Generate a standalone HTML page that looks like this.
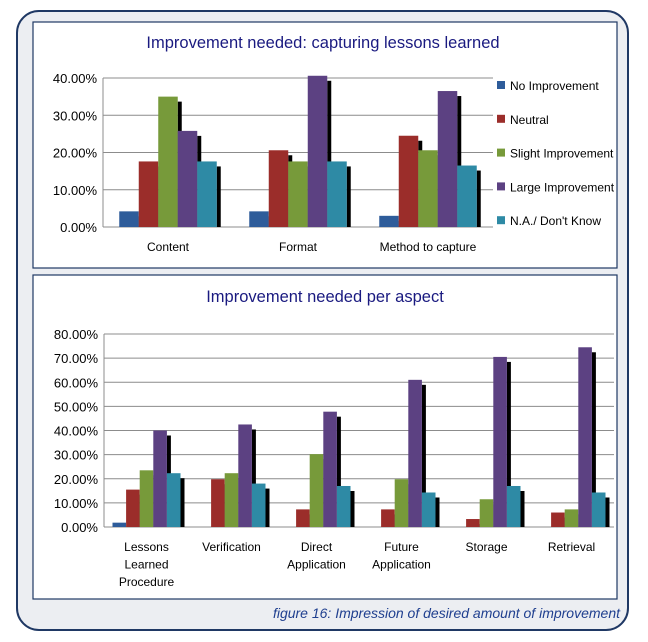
<!DOCTYPE html>
<html><head><meta charset="utf-8"><style>
body{margin:0;width:648px;height:637px;background:#fff;overflow:hidden;font-family:"Liberation Sans",sans-serif}
svg text{font-family:"Liberation Sans",sans-serif}
</style></head><body>
<svg id="s" width="648" height="637" xmlns="http://www.w3.org/2000/svg">
<rect x="17" y="11" width="611" height="619" rx="22" fill="#eceef2" stroke="#1f3864" stroke-width="2"/>
<rect x="33" y="22" width="584" height="246" fill="#fff" stroke="#1f3864" stroke-width="1.2"/>
<rect x="33" y="275" width="584" height="324" fill="#fff" stroke="#1f3864" stroke-width="1.2"/>
<text x="323" y="48" text-anchor="middle" font-size="16.5" fill="#1a1a80">Improvement needed: capturing lessons learned</text>
<text x="325" y="302" text-anchor="middle" font-size="16.5" fill="#1a1a80">Improvement needed per aspect</text>
<text x="620" y="618" text-anchor="end" font-size="14" font-style="italic" fill="#1f3f8f">figure 16: Impression of desired amount of improvement</text>
<g id="g1"></g><g id="g2"></g>
</svg>
<script>
const colors=["#2e5c9a","#9b2d2a","#779a3a","#5c4182","#2e8aa5"];
const seriesNames=["No Improvement","Neutral","Slight Improvement","Large Improvement","N.A./ Don't Know"];
const cats1=["Content","Format","Method to capture"];
const noImp1=[4.2,4.2,3.0];
const neutral1=[17.6,20.6,24.5];
const slight1=[35.0,17.6,20.6];
const large1=[25.8,40.6,36.5];
const na1=[17.6,17.6,16.5];
const ticks1=[0,10,20,30,40];
const cats2=[["Lessons","Learned","Procedure"],["Verification"],["Direct","Application"],["Future","Application"],["Storage"],["Retrieval"]];
const noImp2=[1.8,0,0,0,0,0];
const neutral2=[15.5,19.8,7.3,7.3,3.3,6.0];
const slight2=[23.5,22.3,30.2,19.8,11.5,7.3];
const large2=[40.0,42.5,47.8,61.0,70.5,74.5];
const na2=[22.3,18.0,17.0,14.3,17.0,14.3];
const ticks2=[0,10,20,30,40,50,60,70,80];
const NS="http://www.w3.org/2000/svg";
function mk(p,t,a){const e=document.createElementNS(NS,t);for(const k in a)e.setAttribute(k,a[k]);p.appendChild(e);return e;}
function chart(g,cats,series,ticks,x0,x1,y0,y1,vmax,frac,prefix){
  const y=v=>y0-(v/vmax)*(y0-y1);
  ticks.forEach(t=>{
    const l=mk(g,'line',{x1:x0,x2:x1,y1:y(t),y2:y(t),stroke:'#8c8c8c','stroke-width':1});
    
    
    const tx=mk(g,'text',{x:x0-6,y:y(t)+5,'text-anchor':'end','font-size':13,fill:'#000'});
    tx.textContent=t.toFixed(2)+'%';
    
    
  });
  const ax=mk(g,'line',{x1:x0,x2:x0,y1:y1,y2:y0,stroke:'#8c8c8c'});
  
  
  const cw=(x1-x0)/cats.length, bw=cw*frac/5;
  cats.forEach((c,i)=>{
    const cx=x0+cw*(i+0.5), sx=cx-bw*2.5;
    for(let s=0;s<5;s++){
      const v=series[s][i]; if(v<=0) continue;
      const bx=sx+s*bw;
      const sh=mk(g,'rect',{x:bx+bw,y:Math.min(y(v)+5,y0),width:4,height:Math.max(0,y0-y(v)-5),fill:'#000'});
      
      
      const r=mk(g,'rect',{x:bx,y:y(v),width:bw,height:y0-y(v),fill:colors[s]});
      
      
    }
    const lines=Array.isArray(c)?c:[c];
    lines.forEach((ln,k)=>{
      const t=mk(g,'text',{x:cx,y:y0+24+k*17.5,'text-anchor':'middle','font-size':12,fill:'#000'});
      t.textContent=ln;
      
      
    });
  });
}
const g1=document.getElementById('g1'),g2=document.getElementById('g2');
chart(g1,cats1,[noImp1,neutral1,slight1,large1,na1],ticks1,103,493,227,78,40,0.75,'top');
chart(g2,cats2,[noImp2,neutral2,slight2,large2,na2],ticks2,104,614,527,334,80,0.8,'bottom');
seriesNames.forEach((n,i)=>{
  const yy=86+i*33.8;
  const r=mk(g1,'rect',{x:497,y:yy-5,width:8,height:8,fill:colors[i]});
  
  
  const t=mk(g1,'text',{x:510,y:yy+4,'font-size':12,fill:'#000'});
  t.textContent=n;
  
  
});
</script>
</body></html>
